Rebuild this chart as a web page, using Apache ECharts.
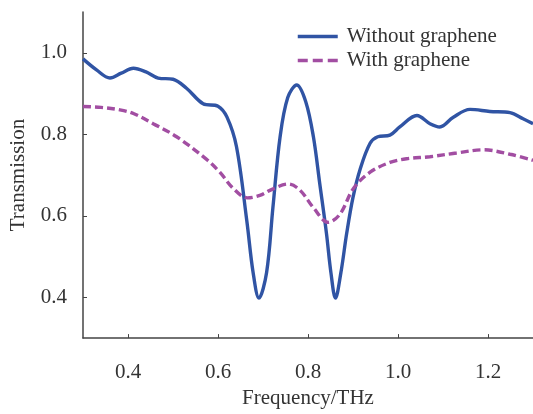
<!DOCTYPE html>
<html>
<head>
<meta charset="utf-8">
<script src="https://cdn.jsdelivr.net/npm/echarts@6/dist/echarts.min.js"></script>
<style>html,body{margin:0;padding:0;background:#fff}#c{width:533px;height:414px}</style>
</head>
<body>
<div id="c"></div>
<script>
const seriesNames = ['Without graphene', 'With graphene'];
const xTicks = [0.4, 0.6, 0.8, 1.0, 1.2];
const yTicks = [0.4, 0.6, 0.8, 1.0];
const freqWithout = [0.300,0.330,0.360,0.385,0.412,0.440,0.467,0.500,0.530,0.567,0.600,0.620,0.641,0.664,0.678,0.691,0.708,0.722,0.738,0.755,0.775,0.795,0.812,0.826,0.841,0.851,0.861,0.873,0.886,0.900,0.916,0.938,0.955,0.982,1.004,1.042,1.071,1.093,1.123,1.160,1.204,1.249,1.278,1.300];
const transWithout = [0.985,0.958,0.938,0.950,0.962,0.953,0.938,0.935,0.913,0.875,0.869,0.842,0.770,0.588,0.461,0.398,0.461,0.620,0.794,0.890,0.921,0.880,0.794,0.680,0.557,0.460,0.398,0.460,0.557,0.645,0.715,0.778,0.794,0.798,0.818,0.846,0.826,0.818,0.842,0.861,0.856,0.853,0.838,0.826];
const freqWith = [0.300,0.340,0.382,0.412,0.456,0.508,0.574,0.604,0.634,0.665,0.693,0.720,0.756,0.782,0.812,0.845,0.871,0.901,0.938,0.982,1.019,1.071,1.130,1.190,1.249,1.300];
const transWith = [0.868,0.866,0.860,0.851,0.826,0.794,0.739,0.707,0.667,0.644,0.650,0.665,0.678,0.663,0.620,0.584,0.604,0.667,0.707,0.731,0.740,0.745,0.754,0.762,0.751,0.736];

const pair = (xs, ys) => xs.map((x, i) => [x, ys[i]]);
const font = '"Liberation Serif", "Times New Roman", serif';
const blue = '#3054a4';
const purple = '#a24ea2';
const chart = echarts.init(document.getElementById('c'), null, {renderer: 'canvas'});
chart.setOption({
  animation: false,
  backgroundColor: '#fff',
  grid: {left: 83, right: 0, top: 12, bottom: 68},
  legend: {
    orient: 'vertical', left: 296, top: 26, padding: 0,
    itemWidth: 40, itemHeight: 14, itemGap: 3,
    itemStyle: {opacity: 0},
    textStyle: {fontFamily: font, fontSize: 21, color: '#333', padding: [0, 0, 0, 4]},
    data: [
      {name: seriesNames[0], lineStyle: {width: 3.5, color: blue}},
      {name: seriesNames[1], lineStyle: {width: 3.5, color: purple, type: [10, 5]}}
    ]
  },
  xAxis: {
    type: 'value', min: 0.3, max: 1.3,
    name: 'Frequency/THz', nameLocation: 'middle', nameGap: 42,
    nameTextStyle: {fontFamily: font, fontSize: 21, color: '#333'},
    axisLine: {show: true, lineStyle: {color: '#444', width: 1.5}},
    axisTick: {show: true, inside: true, length: 4, customValues: xTicks, lineStyle: {color: '#444'}},
    axisLabel: {customValues: xTicks, margin: 24, fontFamily: font, fontSize: 21, color: '#333', formatter: v => v.toFixed(1)},
    splitLine: {show: false}
  },
  yAxis: {
    type: 'value', min: 0.3, max: 1.1,
    name: 'Transmission', nameLocation: 'middle', nameGap: 54,
    nameTextStyle: {fontFamily: font, fontSize: 21, color: '#333'},
    axisLine: {show: true, lineStyle: {color: '#444', width: 1.5}},
    axisTick: {show: true, inside: true, length: 4, customValues: yTicks, lineStyle: {color: '#444'}},
    axisLabel: {customValues: yTicks, margin: 16, fontFamily: font, fontSize: 21, color: '#333', formatter: v => v.toFixed(1)},
    splitLine: {show: false}
  },
  series: [
    {
      name: seriesNames[0], type: 'line', data: pair(freqWithout, transWithout),
      smooth: 0.35, symbol: 'none',
      lineStyle: {color: blue, width: 3.4},
      itemStyle: {color: blue}
    },
    {
      name: seriesNames[1], type: 'line', data: pair(freqWith, transWith),
      smooth: 0.35, symbol: 'none',
      lineStyle: {color: purple, width: 3.4, type: [8, 4]},
      itemStyle: {color: purple}
    }
  ]
});
</script>
</body>
</html>
